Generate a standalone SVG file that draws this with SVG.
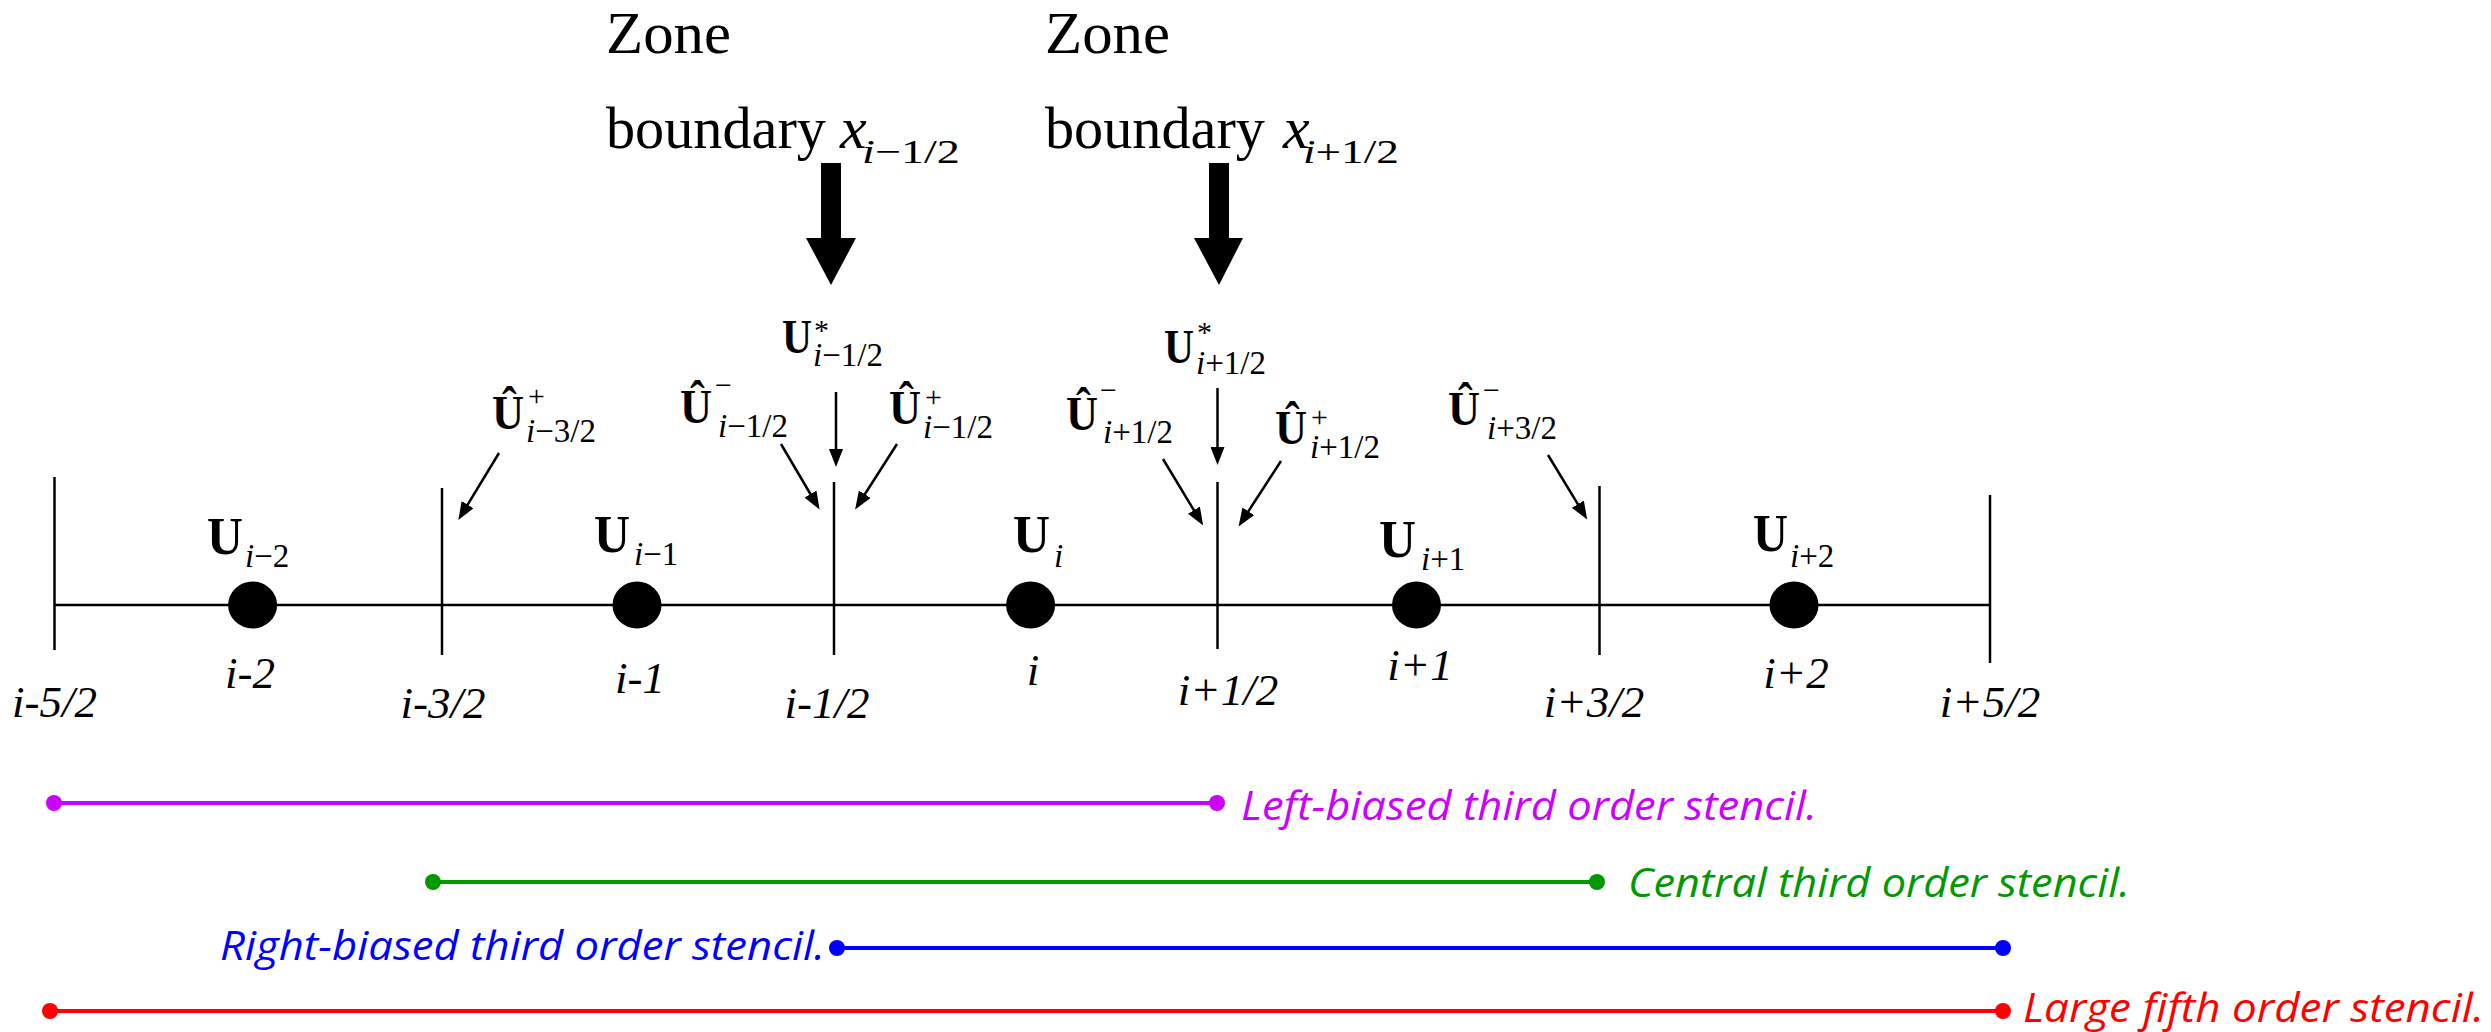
<svg xmlns="http://www.w3.org/2000/svg" width="2491" height="1032" viewBox="0 0 2491 1032">
<style>
.serif{font-family:"Liberation Serif","Times New Roman",serif;fill:#000}
.big{font-size:60px}
.bsub{font-size:34px}
.U{font-size:53px;font-weight:bold}
.H{font-size:49px;font-weight:bold}
.sub{font-size:33px}
.sup{font-size:30px}
.it{font-style:italic}
.lab{font-size:45px;font-style:italic;text-anchor:middle}
.st{font-family:"Open Sans","Noto Sans",sans-serif;font-style:italic;font-size:40px}
.tick{stroke:#000;stroke-width:2.5;fill:none}
.thin{stroke:#000;stroke-width:2.5;fill:none;marker-end:url(#ah)}
</style>
<defs>
<marker id="ah" markerUnits="userSpaceOnUse" markerWidth="20" markerHeight="14" refX="8" refY="7" orient="auto">
<path d="M0,0 L18,7 L0,14 Z" fill="#000"/>
</marker>
</defs>
<rect width="2491" height="1032" fill="#fff"/>

<g id="zone-left">
<text class="serif big" x="606" y="53" textLength="125" lengthAdjust="spacingAndGlyphs">Zone</text>
<text class="serif big" x="606" y="148" textLength="220" lengthAdjust="spacingAndGlyphs">boundary</text>
<text class="serif big it" x="840" y="148">x</text>
<text class="serif bsub" x="862" y="163" textLength="98" lengthAdjust="spacingAndGlyphs"><tspan class="it">i</tspan>−1/2</text>
<polygon points="821,163 841,163 841,238 856,238 831,285 806,238 821,238" fill="#000"/>
</g>
<g id="zone-right">
<text class="serif big" x="1045" y="53" textLength="125" lengthAdjust="spacingAndGlyphs">Zone</text>
<text class="serif big" x="1045" y="148" textLength="220" lengthAdjust="spacingAndGlyphs">boundary</text>
<text class="serif big it" x="1283" y="148">x</text>
<text class="serif bsub" x="1303" y="163" textLength="96" lengthAdjust="spacingAndGlyphs"><tspan class="it">i</tspan>+1/2</text>
<polygon points="1209,163 1229,163 1229,238 1243,238 1219,285 1194,238 1209,238" fill="#000"/>
</g>

<g id="axis">
<line class="tick" x1="54.5" y1="605" x2="1990" y2="605" stroke-width="3"/>
<line class="tick" x1="54.5" y1="477" x2="54.5" y2="650"/>
<line class="tick" x1="442" y1="488" x2="442" y2="655"/>
<line class="tick" x1="834" y1="482" x2="834" y2="655"/>
<line class="tick" x1="1217.5" y1="482" x2="1217.5" y2="649"/>
<line class="tick" x1="1599.5" y1="486" x2="1599.5" y2="655"/>
<line class="tick" x1="1990" y1="495" x2="1990" y2="663"/>
</g>

<g id="cell-im2">
<ellipse cx="252.6" cy="605" rx="24.5" ry="23.5"/>
<text class="serif U" x="207" y="554" textLength="36" lengthAdjust="spacingAndGlyphs">U</text>
<text class="serif sub" x="245" y="567"><tspan class="it">i</tspan>−2</text>
</g>
<g id="cell-im1">
<ellipse cx="637" cy="605" rx="24.5" ry="23.5"/>
<text class="serif U" x="594" y="552" textLength="36" lengthAdjust="spacingAndGlyphs">U</text>
<text class="serif sub" x="634" y="565"><tspan class="it">i</tspan>−1</text>
</g>
<g id="cell-i">
<ellipse cx="1030.6" cy="605" rx="24.5" ry="23.5"/>
<text class="serif U" x="1013" y="552" textLength="37" lengthAdjust="spacingAndGlyphs">U</text>
<text class="serif sub it" x="1054" y="567">i</text>
</g>
<g id="cell-ip1">
<ellipse cx="1416.5" cy="605" rx="24.5" ry="23.5"/>
<text class="serif U" x="1379" y="557" textLength="37" lengthAdjust="spacingAndGlyphs">U</text>
<text class="serif sub" x="1421" y="570"><tspan class="it">i</tspan>+1</text>
</g>
<g id="cell-ip2">
<ellipse cx="1794" cy="605" rx="24.5" ry="23.5"/>
<text class="serif U" x="1753" y="551" textLength="35" lengthAdjust="spacingAndGlyphs">U</text>
<text class="serif sub" x="1790" y="567"><tspan class="it">i</tspan>+2</text>
</g>

<g id="index-labels">
<text class="serif lab" x="54.5" y="717">i-5/2</text>
<text class="serif lab" x="250" y="688">i-2</text>
<text class="serif lab" x="443" y="718">i-3/2</text>
<text class="serif lab" x="640" y="693">i-1</text>
<text class="serif lab" x="827" y="718">i-1/2</text>
<text class="serif lab" x="1033" y="685">i</text>
<text class="serif lab" x="1228" y="705">i+1/2</text>
<text class="serif lab" x="1420" y="680">i+1</text>
<text class="serif lab" x="1594" y="717">i+3/2</text>
<text class="serif lab" x="1796" y="688">i+2</text>
<text class="serif lab" x="1990" y="717">i+5/2</text>
</g>

<g id="uhat-p-im32">
<text class="serif H" x="492" y="429" textLength="32" lengthAdjust="spacingAndGlyphs">Û</text>
<text class="serif sup" x="528" y="406">+</text>
<text class="serif sub" x="526" y="442"><tspan class="it">i</tspan>−3/2</text>
</g>
<g id="ustar-im12">
<text class="serif H" x="782" y="353" textLength="30" lengthAdjust="spacingAndGlyphs">U</text>
<text class="serif sup" x="814" y="340">*</text>
<text class="serif sub" x="813" y="366"><tspan class="it">i</tspan>−1/2</text>
</g>
<g id="uhat-m-im12">
<text class="serif H" x="680" y="423" textLength="32" lengthAdjust="spacingAndGlyphs">Û</text>
<text class="serif sup" x="715" y="395">−</text>
<text class="serif sub" x="718" y="437"><tspan class="it">i</tspan>−1/2</text>
</g>
<g id="uhat-p-im12">
<text class="serif H" x="889" y="424" textLength="32" lengthAdjust="spacingAndGlyphs">Û</text>
<text class="serif sup" x="925" y="407">+</text>
<text class="serif sub" x="923" y="438"><tspan class="it">i</tspan>−1/2</text>
</g>
<g id="ustar-ip12">
<text class="serif H" x="1164" y="363" textLength="30" lengthAdjust="spacingAndGlyphs">U</text>
<text class="serif sup" x="1197" y="342">*</text>
<text class="serif sub" x="1196" y="374"><tspan class="it">i</tspan>+1/2</text>
</g>
<g id="uhat-m-ip12">
<text class="serif H" x="1066" y="430" textLength="32" lengthAdjust="spacingAndGlyphs">Û</text>
<text class="serif sup" x="1100" y="400">−</text>
<text class="serif sub" x="1103" y="443"><tspan class="it">i</tspan>+1/2</text>
</g>
<g id="uhat-p-ip12">
<text class="serif H" x="1275" y="444" textLength="32" lengthAdjust="spacingAndGlyphs">Û</text>
<text class="serif sup" x="1311" y="427">+</text>
<text class="serif sub" x="1310" y="458"><tspan class="it">i</tspan>+1/2</text>
</g>
<g id="uhat-m-ip32">
<text class="serif H" x="1448" y="425" textLength="32" lengthAdjust="spacingAndGlyphs">Û</text>
<text class="serif sup" x="1483" y="400">−</text>
<text class="serif sub" x="1487" y="439"><tspan class="it">i</tspan>+3/2</text>
</g>

<g id="connectors">
<line class="thin" x1="499" y1="453" x2="463.5" y2="511.5"/>
<line class="thin" x1="836" y1="392" x2="836" y2="457"/>
<line class="thin" x1="781" y1="444" x2="814.5" y2="501"/>
<line class="thin" x1="897" y1="444" x2="860.5" y2="501"/>
<line class="thin" x1="1217.5" y1="388" x2="1217.5" y2="455"/>
<line class="thin" x1="1163" y1="459" x2="1198" y2="517"/>
<line class="thin" x1="1281" y1="461" x2="1244" y2="518"/>
<line class="thin" x1="1548" y1="455" x2="1582" y2="511"/>
</g>

<g id="stencil-left" fill="#cc00ff" stroke="#cc00ff">
<line x1="54" y1="803" x2="1217" y2="803" stroke-width="4"/>
<circle cx="54" cy="803" r="8" stroke="none"/>
<circle cx="1217" cy="803" r="8" stroke="none"/>
<text class="st" x="1241" y="820" stroke="none" textLength="576" lengthAdjust="spacingAndGlyphs">Left-biased third order stencil.</text>
</g>
<g id="stencil-central" fill="#009900" stroke="#009900">
<line x1="433" y1="882" x2="1597" y2="882" stroke-width="4"/>
<circle cx="433" cy="882" r="8" stroke="none"/>
<circle cx="1597" cy="882" r="8" stroke="none"/>
<text class="st" x="1628" y="897" stroke="none" textLength="502" lengthAdjust="spacingAndGlyphs">Central third order stencil.</text>
</g>
<g id="stencil-right" fill="#0000ff" stroke="#0000ff">
<line x1="837" y1="948" x2="2003" y2="948" stroke-width="4"/>
<circle cx="837" cy="948" r="8" stroke="none"/>
<circle cx="2003" cy="948" r="8" stroke="none"/>
<text class="st" x="220" y="960" stroke="none" textLength="605" lengthAdjust="spacingAndGlyphs">Right-biased third order stencil.</text>
</g>
<g id="stencil-large" fill="#ff0000" stroke="#ff0000">
<line x1="50" y1="1011" x2="2003" y2="1011" stroke-width="4"/>
<circle cx="50" cy="1011" r="8" stroke="none"/>
<circle cx="2003" cy="1011" r="8" stroke="none"/>
<text class="st" x="2023" y="1022" stroke="none" textLength="461" lengthAdjust="spacingAndGlyphs">Large fifth order stencil.</text>
</g>
</svg>
